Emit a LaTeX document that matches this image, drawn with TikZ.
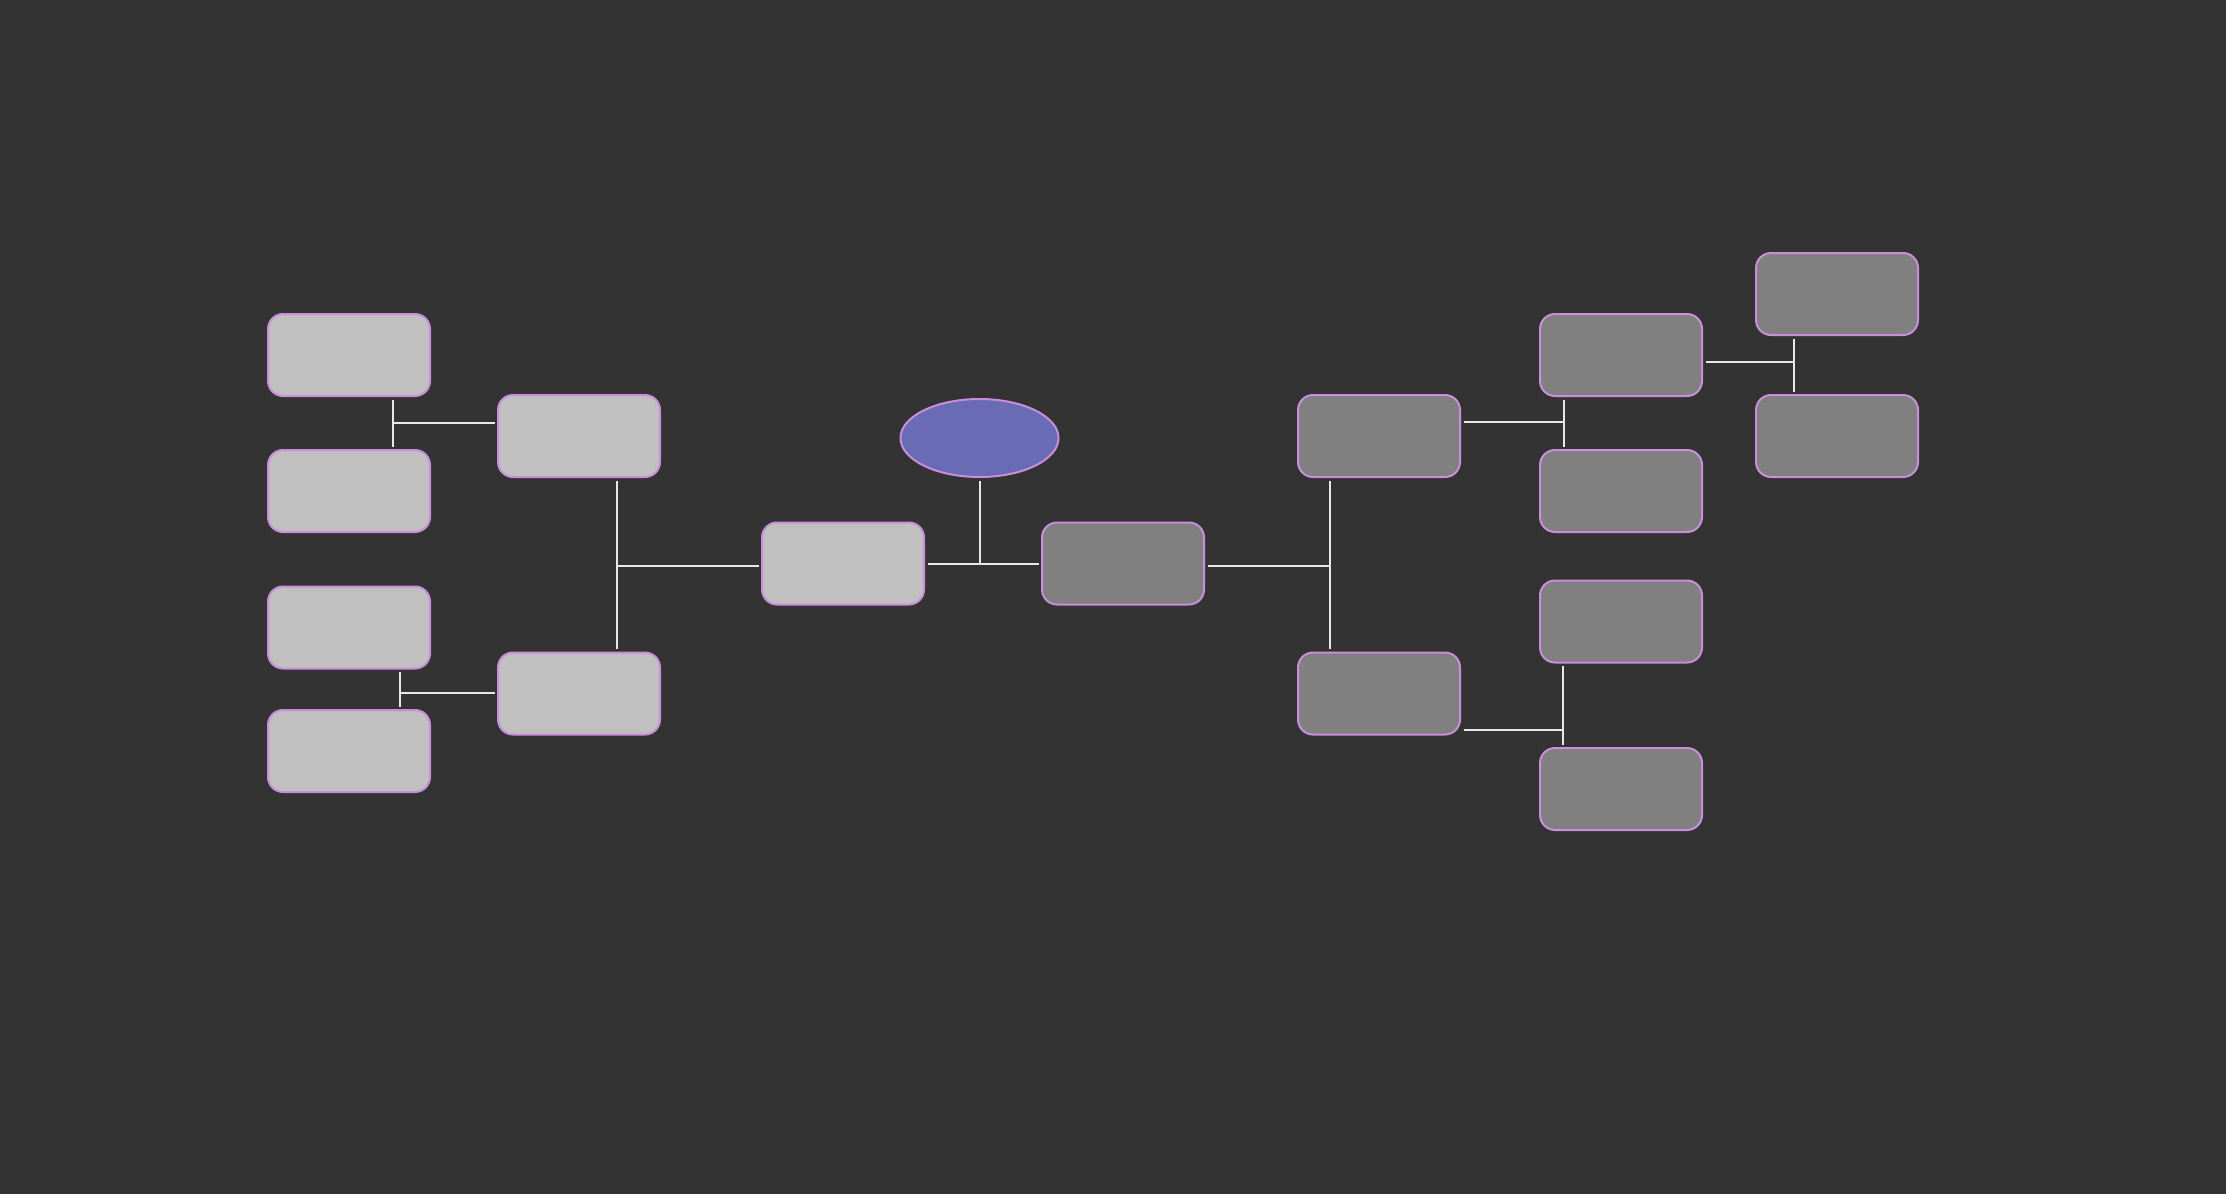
\documentclass[tikz,border=0pt]{standalone}
\usetikzlibrary{shapes.geometric}
\definecolor{canvas}{HTML}{333333}
\definecolor{lightfill}{HTML}{C0C0C0}
\definecolor{darkfill}{HTML}{808080}
\definecolor{rootfill}{HTML}{6A6BB5}
\definecolor{edge}{HTML}{C98EDB}
\definecolor{wire}{HTML}{E8E8E8}
\tikzset{
  card/.style={draw=edge, line width=2pt, rounded corners=15pt,
    minimum width=162pt, minimum height=82pt, inner sep=0pt},
  lightcard/.style={card, fill=lightfill},
  darkcard/.style={card, fill=darkfill},
  rootnode/.style={ellipse, draw=edge, line width=2pt, fill=rootfill,
    minimum width=158pt, minimum height=78pt, inner sep=0pt},
  link/.style={draw=wire, line width=2pt},
  % small gap where a connector meets a card
  gapstart/.style={shorten <=2.5pt},
  gapboth/.style={shorten <=2.5pt, shorten >=2.5pt}
}
\begin{document}
\begin{tikzpicture}[x=1pt, y=-1pt]
  % canvas
  \fill[canvas] (0,0) rectangle (2226,1194);
  \useasboundingbox (0,0) rectangle (2226,1194);

  % root and first level
  \node[rootnode] (ROOT) at (979.5,438) {};
  \node[lightcard] (C1) at (843,563.5) {};
  \node[darkcard]  (C2) at (1123,563.5) {};

  % left branch
  \node[lightcard] (M1) at (579,436) {};
  \node[lightcard] (M2) at (579,693.5) {};
  \node[lightcard] (L1) at (349,355) {};
  \node[lightcard] (L2) at (349,491) {};
  \node[lightcard] (L3) at (349,627.5) {};
  \node[lightcard] (L4) at (349,751) {};

  % right branch
  \node[darkcard] (RM1) at (1379,436) {};
  \node[darkcard] (RM2) at (1379,693.5) {};
  \node[darkcard] (RA) at (1621,355) {};
  \node[darkcard] (RB) at (1621,491) {};
  \node[darkcard] (RC) at (1621,621.5) {};
  \node[darkcard] (RD) at (1621,789) {};
  \node[darkcard] (RT1) at (1837,294) {};
  \node[darkcard] (RT2) at (1837,436) {};

  % junction points of the bracket connectors
  \coordinate (j0)  at (ROOT.south |- C1.east);
  \coordinate (bL)  at (617,566);
  \coordinate (bL1) at (393,423);
  \coordinate (bL2) at (400,693);
  \coordinate (bR)  at (1330,566);
  \coordinate (bR1) at (1564,422);
  \coordinate (bR2) at (1794,362);
  \coordinate (bR3) at (1563,730);

  % root to first level
  \draw[link, gapboth] (C1.east) -- (C2.west);
  \draw[link, gapstart] (ROOT.south) -- (j0);

  % left brackets
  \draw[link, gapstart] (C1.west |- bL) -- (bL);
  \draw[link, gapboth] (bL |- M1.south) -- (bL |- M2.north);
  \draw[link, gapstart] (M1.west |- bL1) -- (bL1);
  \draw[link, gapboth] (bL1 |- L1.south) -- (bL1 |- L2.north);
  \draw[link, gapstart] (M2.west |- bL2) -- (bL2);
  \draw[link, gapboth] (bL2 |- L3.south) -- (bL2 |- L4.north);

  % right brackets
  \draw[link, gapstart] (C2.east |- bR) -- (bR);
  \draw[link, gapboth] (bR |- RM1.south) -- (bR |- RM2.north);
  \draw[link, gapstart] (RM1.east |- bR1) -- (bR1);
  \draw[link, gapboth] (bR1 |- RA.south) -- (bR1 |- RB.north);
  \draw[link, gapstart] (RA.east |- bR2) -- (bR2);
  \draw[link, gapboth] (bR2 |- RT1.south) -- (bR2 |- RT2.north);
  \draw[link, gapstart] (RM2.east |- bR3) -- (bR3);
  \draw[link, gapboth] (bR3 |- RC.south) -- (bR3 |- RD.north);
\end{tikzpicture}
\end{document}
